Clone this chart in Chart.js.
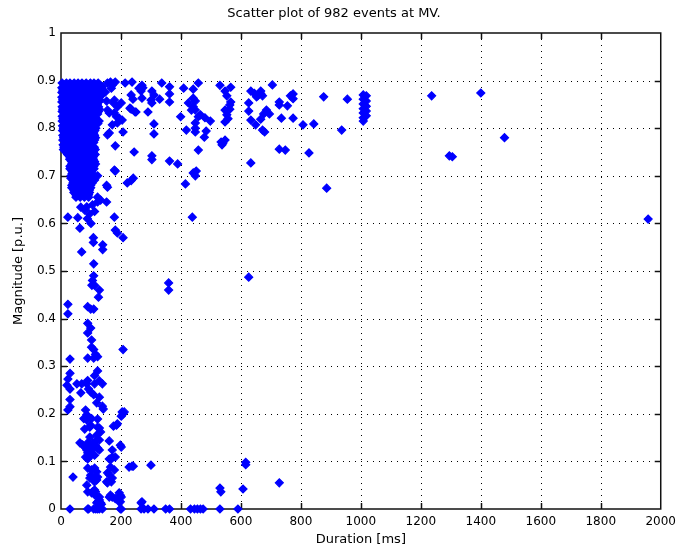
<!DOCTYPE html>
<html>
<head>
<meta charset="utf-8">
<title>Scatter plot of 982 events at MV.</title>
<script src="https://cdn.jsdelivr.net/npm/chart.js@4/dist/chart.umd.min.js"></script>
<style>
  html, body { margin: 0; padding: 0; background: #fff; }
  canvas { display: block; }
</style>
</head>
<body>
<canvas id="scatterChart" width="682" height="552"></canvas>
<script>
// tick values of both axes
const durationTicks = [0, 200, 400, 600, 800, 1000, 1200, 1400, 1600, 1800, 2000]
const magnitudeTicks = [0, 0.1, 0.2, 0.3, 0.4, 0.5, 0.6, 0.7, 0.8, 0.9, 1]

// dense core of short dips: [magnitude, [durations in ms]]
const coreRows = [
  [0.895, [4, 18, 30, 44, 57, 70, 84, 98, 110, 124]],
  [0.89, [11, 24, 37, 51, 64, 77, 91, 104, 117, 131]],
  [0.885, [3, 17, 30, 43, 57, 70, 84, 97, 110, 124]],
  [0.88, [6, 20, 33, 47, 60, 74, 87, 101, 114, 128]],
  [0.875, [3, 16, 30, 44, 58, 71, 85, 98, 111, 126, 140]],
  [0.87, [12, 26, 40, 54, 67, 81, 95, 108, 122, 136]],
  [0.865, [3, 16, 30, 44, 57, 71, 85, 98, 112, 126]],
  [0.86, [6, 20, 33, 47, 60, 74, 88, 102, 115, 129]],
  [0.855, [3, 16, 30, 44, 57, 71, 85, 98, 112, 126]],
  [0.85, [13, 26, 40, 53, 67, 81, 94, 108, 121]],
  [0.845, [4, 17, 30, 44, 57, 71, 84, 98, 111, 125]],
  [0.84, [6, 20, 34, 47, 61, 74, 88, 101, 115, 128]],
  [0.835, [4, 17, 30, 44, 58, 71, 85, 98, 112, 125]],
  [0.83, [13, 27, 40, 54, 68, 81, 95, 108, 122]],
  [0.825, [4, 17, 31, 44, 58, 71, 85, 99, 112]],
  [0.82, [7, 20, 34, 47, 61, 75, 88, 102, 116]],
  [0.815, [4, 17, 31, 44, 58, 71, 85, 99, 112, 127]],
  [0.81, [14, 27, 41, 54, 68, 82, 95, 109, 123]],
  [0.805, [5, 18, 31, 45, 58, 72, 85, 99, 113]],
  [0.8, [8, 21, 35, 48, 61, 75, 89, 102, 116]],
  [0.795, [5, 18, 31, 45, 58, 72, 86, 99, 113]],
  [0.79, [15, 28, 42, 55, 69, 82, 96, 109]],
  [0.785, [6, 19, 32, 46, 59, 72, 86, 99, 112]],
  [0.78, [9, 22, 35, 49, 62, 76, 89, 103, 115]],
  [0.775, [6, 19, 32, 46, 59, 73, 86, 100, 112]],
  [0.77, [16, 29, 43, 56, 70, 83, 97, 109]],
  [0.765, [7, 20, 33, 47, 60, 73, 87, 100]],
  [0.76, [10, 23, 37, 50, 63, 77, 90, 104, 111]],
  [0.755, [8, 21, 34, 47, 61, 74, 88, 101, 114]],
  [0.75, [17, 28, 41, 55, 68, 81, 95, 108]],
  [0.745, [22, 35, 48, 62, 75, 89, 102, 114]],
  [0.74, [29, 42, 55, 68, 82, 95, 108]],
  [0.735, [29, 42, 55, 69, 82, 96, 108]],
  [0.73, [35, 49, 62, 76, 89, 102, 112]],
  [0.725, [36, 49, 62, 76, 89, 103, 115]],
  [0.72, [30, 43, 56, 69, 83, 96, 109]],
  [0.715, [30, 43, 56, 69, 83, 96, 110]],
  [0.71, [37, 50, 63, 77, 90, 103]],
  [0.705, [37, 50, 63, 77, 90, 104]],
  [0.7, [33, 44, 57, 70, 84, 97, 108]],
  [0.695, [33, 44, 57, 70, 84, 97, 110]],
  [0.69, [40, 52, 65, 78, 92, 104]],
  [0.685, [40, 52, 65, 78, 92, 104]],
  [0.68, [36, 47, 60, 73, 86, 99]],
  [0.675, [36, 47, 60, 73, 86, 99]],
  [0.67, [43, 55, 68, 82, 95]],
  [0.665, [43, 55, 68, 82, 95]],
  [0.66, [50, 64, 78, 92]],
  [0.655, [50, 64, 78, 92]],
]

// other events below 250 ms: [duration ms, magnitude p.u.]
const shortEvents = [
  [138, 0.887], [148, 0.876], [155, 0.895], [165, 0.897], [171, 0.891], [168, 0.884], [181, 0.897],
  [214, 0.895], [237, 0.897], [152, 0.857], [175, 0.853], [178, 0.859], [188, 0.845], [201, 0.853],
  [155, 0.838], [161, 0.832], [178, 0.832], [185, 0.824], [194, 0.821], [188, 0.811], [171, 0.807],
  [204, 0.817], [161, 0.79], [155, 0.786], [207, 0.792], [181, 0.763], [230, 0.842], [247, 0.834],
  [244, 0.75], [234, 0.87], [240, 0.861], [234, 0.84], [181, 0.71], [178, 0.712], [221, 0.685],
  [241, 0.695], [234, 0.69], [122, 0.7], [112, 0.691], [152, 0.68], [155, 0.676], [63, 0.676],
  [30, 0.765], [23, 0.796],
  [23, 0.613], [56, 0.612], [63, 0.59], [69, 0.54], [79, 0.628], [86, 0.635], [95, 0.62], [105, 0.639],
  [88, 0.61], [100, 0.6], [112, 0.625], [122, 0.655], [122, 0.645], [132, 0.649], [152, 0.645],
  [66, 0.634], [178, 0.613], [181, 0.586], [188, 0.58], [207, 0.57], [108, 0.57], [108, 0.56],
  [139, 0.555], [139, 0.545], [109, 0.515], [109, 0.49], [105, 0.48], [103, 0.47], [112, 0.47],
  [128, 0.46], [125, 0.445], [23, 0.43], [23, 0.41], [89, 0.425], [99, 0.42], [109, 0.42],
  [89, 0.39], [99, 0.38], [89, 0.37], [102, 0.355], [102, 0.34], [109, 0.335], [115, 0.325],
  [122, 0.32], [207, 0.335], [30, 0.315], [89, 0.317], [109, 0.317],
  [122, 0.29], [30, 0.285], [23, 0.273], [20, 0.26], [30, 0.252], [53, 0.263], [69, 0.263],
  [86, 0.263], [112, 0.263], [138, 0.263], [89, 0.27], [128, 0.269], [112, 0.28], [92, 0.252],
  [66, 0.244], [99, 0.246], [109, 0.24], [128, 0.235], [30, 0.23], [30, 0.215], [23, 0.208],
  [119, 0.223], [138, 0.216], [141, 0.21], [82, 0.208], [86, 0.198], [89, 0.195], [86, 0.187],
  [76, 0.19], [102, 0.19], [99, 0.176], [79, 0.168], [96, 0.172], [122, 0.189], [122, 0.172],
  [128, 0.17], [132, 0.162], [119, 0.155], [204, 0.204], [211, 0.204], [201, 0.195], [207, 0.2],
  [188, 0.179], [185, 0.176], [175, 0.174], [161, 0.143], [198, 0.134], [201, 0.13], [171, 0.124],
  [63, 0.139], [72, 0.135], [79, 0.13], [89, 0.13], [89, 0.139], [86, 0.124], [89, 0.118],
  [96, 0.11], [89, 0.105], [82, 0.109], [105, 0.139], [105, 0.13], [115, 0.134], [99, 0.12],
  [112, 0.113], [128, 0.124], [128, 0.145], [96, 0.151], [119, 0.145], [122, 0.128], [102, 0.124],
  [171, 0.109], [181, 0.109], [168, 0.105], [161, 0.105], [165, 0.088], [155, 0.076], [178, 0.082],
  [171, 0.065], [155, 0.055], [227, 0.088], [237, 0.09], [241, 0.09], [40, 0.067], [89, 0.086],
  [102, 0.082], [112, 0.086], [119, 0.078], [99, 0.071], [105, 0.067], [96, 0.065], [112, 0.067],
  [122, 0.067], [119, 0.061], [161, 0.072], [152, 0.057], [168, 0.057], [86, 0.05], [112, 0.057],
  [89, 0.036], [102, 0.034], [105, 0.036], [115, 0.036], [112, 0.04], [112, 0.03], [122, 0.025],
  [128, 0.025], [128, 0.019], [119, 0.013], [122, 0.015], [132, 0.013], [135, 0.01], [161, 0.025],
  [165, 0.029], [171, 0.025], [181, 0.022], [194, 0.034], [198, 0.029], [201, 0.025], [194, 0.015],
  [198, 0.015],
]

// events of 250 ms and longer: [duration ms, magnitude p.u.]
const longEvents = [
  [270, 0.89], [267, 0.878], [273, 0.885], [260, 0.884], [270, 0.863], [250, 0.834], [303, 0.878],
  [310, 0.87], [300, 0.859], [303, 0.853], [329, 0.861], [336, 0.895], [362, 0.887], [362, 0.872],
  [362, 0.855], [290, 0.834], [310, 0.809], [310, 0.788], [303, 0.742], [303, 0.734], [362, 0.731],
  [389, 0.725], [267, 0.013], [270, 0.015], [300, 0.092], [359, 0.475], [359, 0.46],
  [409, 0.884], [441, 0.882], [458, 0.895], [425, 0.853], [441, 0.863], [448, 0.857], [441, 0.845],
  [435, 0.838], [448, 0.838], [399, 0.824], [458, 0.824], [465, 0.828], [480, 0.822], [498, 0.815],
  [448, 0.811], [448, 0.8], [418, 0.796], [484, 0.794], [448, 0.792], [478, 0.781], [458, 0.754],
  [534, 0.771], [547, 0.775], [537, 0.765], [441, 0.706], [451, 0.71], [448, 0.7], [415, 0.683],
  [438, 0.613],
  [530, 0.89], [547, 0.878], [566, 0.886], [553, 0.868], [566, 0.855], [563, 0.849], [547, 0.838],
  [563, 0.84], [553, 0.828], [547, 0.813], [557, 0.82], [540, 0.769],
  [633, 0.878], [645, 0.873], [656, 0.868], [666, 0.873], [666, 0.878], [652, 0.866], [672, 0.868],
  [705, 0.891], [626, 0.853], [626, 0.836], [633, 0.817], [666, 0.819], [676, 0.83], [685, 0.838],
  [695, 0.83], [672, 0.796], [679, 0.792], [649, 0.807], [728, 0.855], [728, 0.849], [735, 0.821],
  [755, 0.847], [765, 0.868], [774, 0.872], [774, 0.862], [774, 0.821], [728, 0.756], [748, 0.754],
  [827, 0.748], [633, 0.727], [807, 0.807], [843, 0.809], [876, 0.866], [936, 0.796], [955, 0.861],
  [1008, 0.87], [1008, 0.861], [1008, 0.851], [1008, 0.841], [1008, 0.832], [1008, 0.822], [1008, 0.815],
  [1018, 0.868], [1018, 0.857], [1018, 0.846], [1018, 0.836], [1018, 0.826],
  [1236, 0.868], [1400, 0.874], [1479, 0.78], [1295, 0.742], [1305, 0.74], [886, 0.674], [626, 0.487],
  [1958, 0.609], [616, 0.098], [616, 0.093], [607, 0.042], [728, 0.055], [530, 0.044], [533, 0.036],
]

// interruptions (magnitude 0), durations in ms
const zeroEvents = [30, 89, 92, 109, 116, 122, 128, 138, 198, 201, 267, 277, 290, 310, 349, 362, 432, 445, 455, 465, 474, 530, 590]

const points = []
coreRows.forEach(([mag, durs]) => durs.forEach((d) => points.push({ x: d, y: mag })))
shortEvents.forEach(([d, m]) => points.push({ x: d, y: m }))
longEvents.forEach(([d, m]) => points.push({ x: d, y: m }))
zeroEvents.forEach((d) => points.push({ x: d, y: 0 }))

// MATLAB style axes: dotted grid, box and inward ticks on all four sides
const matlabAxes = {
  id: "matlabAxes",
  beforeDatasetsDraw(chart) {
    const { ctx, chartArea: a, scales } = chart
    const x = scales.x
    const y = scales.y
    const line = (x1, y1, x2, y2) => {
      ctx.beginPath()
      ctx.moveTo(x1, y1)
      ctx.lineTo(x2, y2)
      ctx.stroke()
    }
    ctx.save()
    ctx.strokeStyle = "#000"
    ctx.lineWidth = 1
    ctx.setLineDash([1, 5])
    durationTicks.slice(1, -1).forEach((v) => {
      const px = Math.round(x.getPixelForValue(v)) + 0.5
      line(px, a.top, px, a.bottom)
    })
    magnitudeTicks.slice(1, -1).forEach((v) => {
      const py = Math.round(y.getPixelForValue(v)) + 0.5
      line(a.left, py, a.right, py)
    })
    ctx.setLineDash([])

    const tick = 6
    ctx.lineWidth = 1.5
    ctx.strokeStyle = "#111"
    durationTicks.slice(1, -1).forEach((v) => {
      const px = Math.round(x.getPixelForValue(v)) + 0.5
      line(px, a.bottom, px, a.bottom - tick)
      line(px, a.top, px, a.top + tick)
    })
    magnitudeTicks.slice(1, -1).forEach((v) => {
      const py = Math.round(y.getPixelForValue(v)) + 0.5
      line(a.left, py, a.left + tick, py)
      line(a.right, py, a.right - tick, py)
    })
    ctx.strokeRect(a.left, a.top, a.right - a.left, a.bottom - a.top)
    ctx.restore()
  },
}

Chart.defaults.font.family = "'DejaVu Sans', sans-serif"
Chart.defaults.font.size = 12
Chart.defaults.color = "#000"

new Chart(document.getElementById("scatterChart"), {
  type: "scatter",
  data: {
    datasets: [
      {
        label: "events",
        data: points,
        pointStyle: "rectRot",
        pointRadius: 4,
        pointHoverRadius: 4,
        backgroundColor: "#0000ff",
        borderColor: "#0000ff",
        borderWidth: 1.2,
        clip: false,
      },
    ],
  },
  options: {
    responsive: false,
    animation: false,
    devicePixelRatio: 1,
    layout: {
      padding: { top: 0, right: 14, bottom: 0, left: 0 },
    },
    plugins: {
      legend: { display: false },
      tooltip: { enabled: false },
      title: {
        display: true,
        text: "Scatter plot of 982 events at MV.",
        font: { size: 13, weight: "normal" },
        color: "#000",
        padding: { top: 6, bottom: 11.4 },
      },
    },
    scales: {
      x: {
        type: "linear",
        min: 0,
        max: 2000,
        afterBuildTicks: (scale) => {
          scale.ticks = durationTicks.map((v) => ({ value: v }))
        },
        afterFit: (scale) => {
          scale.height = 43
        },
        ticks: { padding: 6, maxRotation: 0, callback: (v) => String(v) },
        grid: { display: false, drawTicks: false },
        border: { display: false },
        title: {
          display: true,
          text: "Duration [ms]",
          font: { size: 13 },
          padding: { top: 0, bottom: 4.4 },
        },
      },
      y: {
        type: "linear",
        min: 0,
        max: 1,
        afterBuildTicks: (scale) => {
          scale.ticks = magnitudeTicks.map((v) => ({ value: v }))
        },
        afterFit: (scale) => {
          scale.width = 61
        },
        ticks: { padding: 5, callback: (v) => String(+v.toFixed(1)) },
        grid: { display: false, drawTicks: false },
        border: { display: false },
        title: {
          display: true,
          text: "Magnitude [p.u.]",
          font: { size: 13 },
          padding: { top: 11, bottom: 0 },
        },
      },
    },
  },
  plugins: [matlabAxes],
})
</script>
</body>
</html>
